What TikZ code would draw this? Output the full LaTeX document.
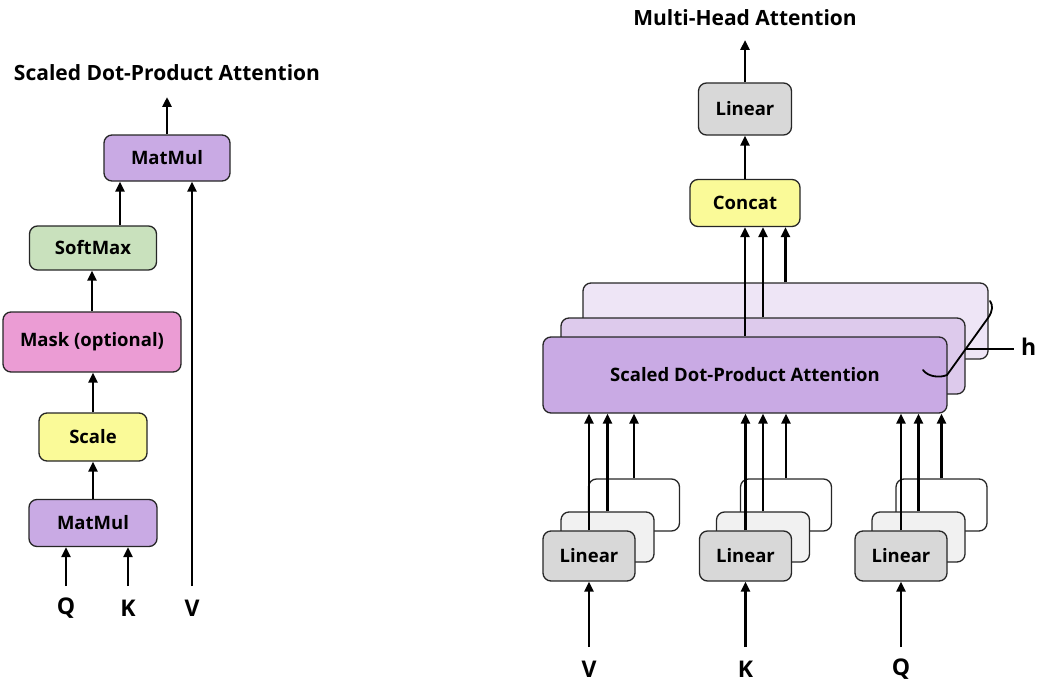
\documentclass[tikz,border=0pt]{standalone}
\usepackage{fontspec}
\setmainfont{Open Sans}[Ligatures=NoCommon]
\usetikzlibrary{arrows.meta}

\definecolor{mmpurple}{RGB}{201,170,228}
\definecolor{smgreen}{RGB}{201,225,189}
\definecolor{mkpink}{RGB}{235,156,212}
\definecolor{scyellow}{RGB}{250,250,152}
\definecolor{lngray}{RGB}{216,216,216}
\definecolor{lnlight}{RGB}{241,241,241}
\definecolor{sdmid}{RGB}{221,202,236}
\definecolor{sdback}{RGB}{238,229,246}

\tikzset{
  box/.style={draw=black!85, line width=1.3pt, rounded corners=8pt, inner sep=0pt,
    font=\fontsize{18.5}{21}\selectfont\bfseries},
  arr/.style={line width=2.7pt, -{Triangle[length=10pt,width=9pt]}},
  title/.style={font=\fontsize{21}{24}\selectfont\bfseries},
  io/.style={font=\fontsize{23}{25}\selectfont\bfseries},
  linbox/.style={box, minimum width=92pt, minimum height=50pt},
}

\begin{document}
\begin{tikzpicture}[x=1pt,y=-1pt]
\useasboundingbox (0,0) rectangle (1038,682);

% ---------- Scaled Dot-Product Attention ----------
\node[title] (ltitle) at (167,73) {Scaled Dot-Product Attention};
\node[box, fill=mmpurple, minimum width=126pt, minimum height=46pt] (mm2) at (167,158) {MatMul};
\node[box, fill=smgreen, minimum width=127pt, minimum height=44pt] (soft) at (93,248) {SoftMax};
\node[box, fill=mkpink, minimum width=178pt, minimum height=60pt] (mask) at (92,342) {Mask (optional)};
\node[box, fill=scyellow, minimum width=108pt, minimum height=48pt] (scale) at (93,437) {Scale};
\node[box, fill=mmpurple, minimum width=128pt, minimum height=47pt] (mm1) at (93,523) {MatMul};

\node[io] (qL) at (66,608) {Q};
\node[io] (kL) at (128,608) {K};
\node[io] (vL) at (192,608) {V};
\coordinate (qin) at (66,586);
\coordinate (kin) at (128,586);
\coordinate (vin) at (192,586);
\coordinate (lout) at (167,97);

\draw[arr] (qin) -- (qin |- mm1.south);
\draw[arr] (kin) -- (kin |- mm1.south);
\draw[arr] (vin) -- (vin |- mm2.south);
\draw[arr] (mm1.north -| scale.south) -- (scale.south);
\draw[arr] (scale.north) -- (scale.north |- mask.south);
\draw[arr] (mask.north) -- (mask.north |- soft.south);
\draw[arr] (soft.north -| 120,0) -- (120,0 |- mm2.south);
\draw[arr] (mm2.north) -- (lout);

% ---------- Multi-Head Attention ----------
\node[title] (rtitle) at (745,18) {Multi-Head Attention};
\node[box, fill=lngray, minimum width=93pt, minimum height=52pt] (lin) at (745,109) {Linear};
\node[box, fill=scyellow, minimum width=110pt, minimum height=47pt] (concat) at (745,203) {Concat};
\coordinate (rout) at (745,40);

% stacked attention heads, back to front
\node[box, fill=sdback, minimum width=405pt, minimum height=76pt] (sdb) at (785.5,321) {};
\node[box, fill=sdmid, minimum width=404pt, minimum height=76pt] (sdm) at (763,356) {};
\node[box, fill=mmpurple, minimum width=404pt, minimum height=76pt] (sdf) at (745,375) {Scaled Dot-Product Attention};

\draw[arr] (sdf.north) -- (concat.south);
\draw[arr] (sdm.north) -- (sdm.north |- concat.south);
\draw[arr] (sdb.north) -- (sdb.north |- concat.south);
\draw[arr] (concat.north) -- (lin.south);
\draw[arr] (lin.north) -- (rout);

% head-count marker
\draw[line width=1.8pt, line cap=round] (923,370) .. controls (928,377) and (940,378) .. (947,375)
  -- (988,318) .. controls (993,311) and (993,305) .. (990,301);
\node[io, anchor=west, inner sep=0pt] (hL) at (1021,347) {h};
\coordinate (hstart) at (965,349);
\draw[line width=1.8pt] (hstart) -- ([xshift=-7pt]hL.west |- hstart);

% linear projection stacks
\foreach \nm/\fx/\mx/\bx/\lab in {v/589/607.5/634/V, k/745.5/763/786/K, q/901/918.5/941.5/Q}{
  \node[box, fill=white, minimum width=91pt, minimum height=52pt] (\nm b) at (\bx,505) {};
  \node[box, fill=lnlight, minimum width=93pt, minimum height=50pt] (\nm m) at (\mx,537) {};
  \node[linbox, fill=lngray] (\nm f) at (\fx,556) {Linear};
  \draw[arr] (\nm b.north) -- (\nm b.north |- sdf.south);
  \draw[arr] (\nm m.north) -- (\nm m.north |- sdf.south);
  \draw[arr] (\nm f.north) -- (\nm f.north |- sdf.south);
  \node[io] (\nm in) at (\fx,669) {\lab};
  \coordinate (\nm src) at (\fx,647);
  \draw[arr] (\nm src) -- (\nm f.south);
}
\end{tikzpicture}
\end{document}
